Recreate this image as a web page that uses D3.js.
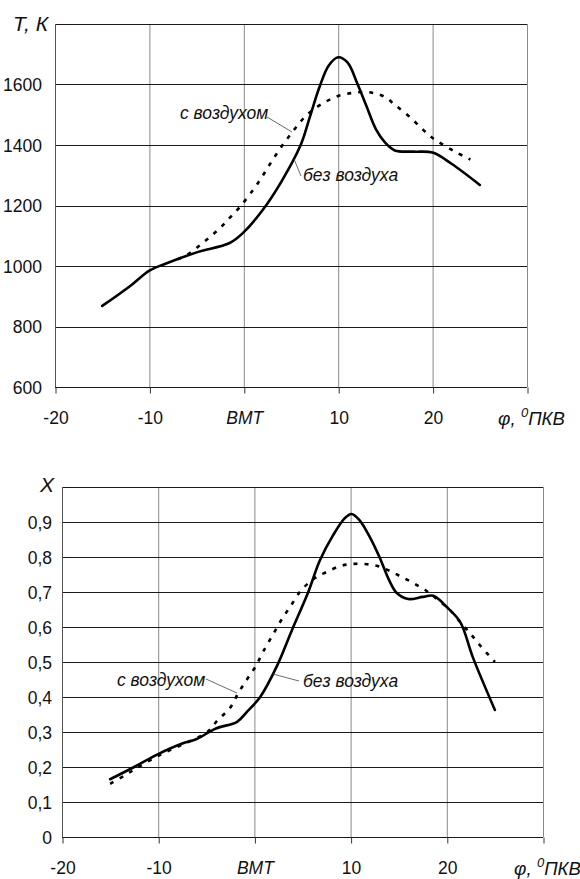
<!DOCTYPE html>
<html>
<head>
<meta charset="utf-8">
<script src="https://cdn.jsdelivr.net/npm/d3@7"></script>
<style>
  html, body { margin: 0; padding: 0; background: #fff; }
  svg { display: block; }
  text { font-family: "Liberation Sans Narrow", "Arial Narrow", "Liberation Sans", Arial, sans-serif; fill: #111; }
</style>
</head>
<body>
<svg id="chart" width="580" height="879"></svg>
<script>
// Crank angle, degrees (0 = ВМТ)
const xTicks = [-20, -10, 0, 10, 20, 30];
const xTickLabels = ["-20", "-10", "ВМТ", "10", "20", ""];

// Temperature T, K — without air injection
const phiTempNoAir = [-15, -12, -10, -8.5, -5, -1.5, 0, 2, 4, 6, 7, 8, 9, 10, 11, 12, 13, 14, 15, 16, 18, 20, 22, 25];
const tempNoAir    = [868, 935, 985, 1005, 1045, 1076, 1112, 1185, 1280, 1398, 1493, 1590, 1663, 1690, 1672, 1605, 1528, 1452, 1407, 1382, 1378, 1375, 1338, 1268];

// Temperature T, K — with air injection
const phiTempAir = [-7, -6, -4, -2.5, -1.5, -0.5, 1, 2, 3, 4, 5, 6, 7, 8.5, 10, 11.5, 13, 14, 15, 16, 17.5, 19, 20, 21, 22.5, 24];
const tempAir    = [1022, 1037, 1085, 1126, 1159, 1192, 1252, 1298, 1348, 1395, 1437, 1477, 1508, 1540, 1562, 1572, 1575, 1570, 1558, 1533, 1495, 1450, 1423, 1403, 1376, 1352];

const tempTicks = [600, 800, 1000, 1200, 1400, 1600];
const tempTickLabels = ["600", "800", "1000", "1200", "1400", "1600"];

// Burned fraction X — without air injection
const phiXNoAir = [-15, -12.5, -10, -7.5, -6, -4, -1.8, -0.8, 0.6, 2.3, 3.9, 5.6, 6.8, 8.2, 9.4, 10.1, 10.9, 12, 13, 14, 14.8, 16, 17.5, 18.6, 20, 21.4, 22.7, 25];
const xNoAir    = [0.165, 0.2, 0.237, 0.267, 0.28, 0.31, 0.329, 0.357, 0.4, 0.486, 0.591, 0.7, 0.79, 0.863, 0.911, 0.923, 0.906, 0.857, 0.8, 0.734, 0.697, 0.68, 0.686, 0.689, 0.657, 0.614, 0.514, 0.363];

// Burned fraction X — with air injection
const phiXAir = [-15, -13.6, -12.4, -10, -7.5, -5, -3.8, -2.5, -1.7, -0.8, 0.1, 0.9, 1.9, 2.8, 3.7, 4.9, 6.3, 7.5, 8.9, 10.1, 11.5, 12.8, 14.1, 15.3, 16.5, 17.9, 19.1, 20.3, 21.4, 22.4, 23.5, 25];
const xAir    = [0.152, 0.174, 0.194, 0.232, 0.264, 0.298, 0.334, 0.37, 0.41, 0.449, 0.486, 0.529, 0.577, 0.62, 0.657, 0.706, 0.74, 0.757, 0.774, 0.78, 0.78, 0.774, 0.76, 0.743, 0.726, 0.703, 0.677, 0.649, 0.614, 0.583, 0.546, 0.5];

const fracTicks = [0, 0.1, 0.2, 0.3, 0.4, 0.5, 0.6, 0.7, 0.8, 0.9];
const fracTickLabels = ["0", "0,1", "0,2", "0,3", "0,4", "0,5", "0,6", "0,7", "0,8", "0,9"];

const seriesNames = ["с воздухом", "без воздуха"];

const svg = d3.select("#chart");

function label(parent, x, y, size) {
  return parent.append("text").attr("x", x).attr("y", y).attr("font-size", size);
}

function drawPanel(cfg) {
  const x = d3.scaleLinear().domain([-20, 30]).range([cfg.left, cfg.right]);
  const y = d3.scaleLinear().domain(cfg.yDomain).range([cfg.bottom, cfg.top]);
  const g = svg.append("g");

  // vertical grid
  g.append("g").selectAll("line").data(xTicks.filter(t => t > -20 && t < 30)).join("line")
    .attr("x1", d => x(d) + 0.5).attr("x2", d => x(d) + 0.5)
    .attr("y1", cfg.top).attr("y2", cfg.bottom)
    .attr("stroke", "#8a8a8a").attr("stroke-width", 1);

  // horizontal grid
  g.append("g").selectAll("line").data(cfg.yTicks.filter(t => t > cfg.yDomain[0])).join("line")
    .attr("x1", cfg.left).attr("x2", cfg.right)
    .attr("y1", d => Math.round(y(d)) + 0.5).attr("y2", d => Math.round(y(d)) + 0.5)
    .attr("stroke", "#1a1a1a").attr("stroke-width", 1);

  // frame: top (dark), right (grey), left (grey)
  g.append("line").attr("x1", cfg.left).attr("x2", cfg.right)
    .attr("y1", Math.round(y(cfg.yDomain[1])) + 0.5).attr("y2", Math.round(y(cfg.yDomain[1])) + 0.5)
    .attr("stroke", "#1a1a1a");
  g.append("line").attr("x1", cfg.right + 0.5).attr("x2", cfg.right + 0.5)
    .attr("y1", cfg.top).attr("y2", cfg.bottom).attr("stroke", "#8a8a8a");
  g.append("line").attr("x1", cfg.left + 0.5).attr("x2", cfg.left + 0.5)
    .attr("y1", cfg.top).attr("y2", cfg.bottom).attr("stroke", "#555");

  // x axis with downward ticks
  const xAxis = d3.axisBottom(x).tickValues(xTicks).tickSize(6).tickFormat(() => "");
  const ax = g.append("g").attr("transform", `translate(0.5,${Math.round(cfg.bottom) + 0.5})`).call(xAxis);
  ax.select(".domain").attr("stroke", "#1a1a1a").attr("d", `M${cfg.left - 0.5},0H${cfg.right - 0.5}`);
  ax.selectAll(".tick line").attr("stroke", "#333");

  // x tick labels
  xTicks.forEach((t, i) => {
    label(g, x(t) + 1, cfg.bottom + 37, 17.5)
      .attr("text-anchor", "middle")
      .attr("font-style", xTickLabels[i] === "ВМТ" ? "italic" : "normal")
      .text(xTickLabels[i]);
  });

  // y tick labels
  cfg.yTicks.forEach((t, i) => {
    label(g, cfg.left - cfg.yLabelGap, y(t) + 6.5, 17.5)
      .attr("text-anchor", "end")
      .text(cfg.yTickLabels[i]);
  });

  // axis titles
  label(g, cfg.yTitleX, cfg.yTitleY, 21).attr("font-style", "italic").text(cfg.yTitle);
  const phi = label(g, cfg.right - 29, cfg.bottom + 38, 19).attr("font-style", "italic");
  phi.append("tspan").text("φ, ");
  phi.append("tspan").attr("font-size", 13).attr("dy", -8).text("0");
  phi.append("tspan").attr("dy", 8).attr("font-size", 18.5).text("ПКВ");

  const line = d3.line().x(d => x(d[0])).y(d => y(d[1])).curve(d3.curveCatmullRom.alpha(0.5));

  // series
  g.append("path").datum(d3.zip(cfg.airX, cfg.airY)).attr("d", line)
    .attr("fill", "none").attr("stroke", "#000").attr("stroke-width", 2.6)
    .attr("stroke-dasharray", "4,7");
  g.append("path").datum(d3.zip(cfg.noAirX, cfg.noAirY)).attr("d", line)
    .attr("fill", "none").attr("stroke", "#000").attr("stroke-width", 2.6)
    .attr("stroke-linejoin", "round").attr("stroke-linecap", "round");

  // callouts
  cfg.callouts.forEach((c, i) => {
    g.append("line").attr("x1", c.from[0]).attr("y1", c.from[1]).attr("x2", c.to[0]).attr("y2", c.to[1])
      .attr("stroke", "#444").attr("stroke-width", 0.8);
    label(g, c.text[0], c.text[1], 17.5).attr("font-style", "italic").text(seriesNames[i]);
  });
}

drawPanel({
  left: 55, right: 527, top: 24, bottom: 387,
  yDomain: [600, 1800], yTicks: tempTicks, yTickLabels: tempTickLabels, yLabelGap: 13,
  yTitle: "Т, К", yTitleX: 13, yTitleY: 31,
  noAirX: phiTempNoAir, noAirY: tempNoAir, airX: phiTempAir, airY: tempAir,
  callouts: [
    { text: [180, 119], from: [267, 117], to: [292, 132] },
    { text: [303, 181], from: [294, 159], to: [301, 176] }
  ]
});

drawPanel({
  left: 62, right: 543, top: 487, bottom: 837,
  yDomain: [0, 1], yTicks: fracTicks, yTickLabels: fracTickLabels, yLabelGap: 10,
  yTitle: "Х", yTitleX: 40, yTitleY: 492,
  noAirX: phiXNoAir, noAirY: xNoAir, airX: phiXAir, airY: xAir,
  callouts: [
    { text: [117, 686], from: [206, 679], to: [237, 693] },
    { text: [303, 687], from: [273, 674], to: [299, 681] }
  ]
});
</script>
</body>
</html>
